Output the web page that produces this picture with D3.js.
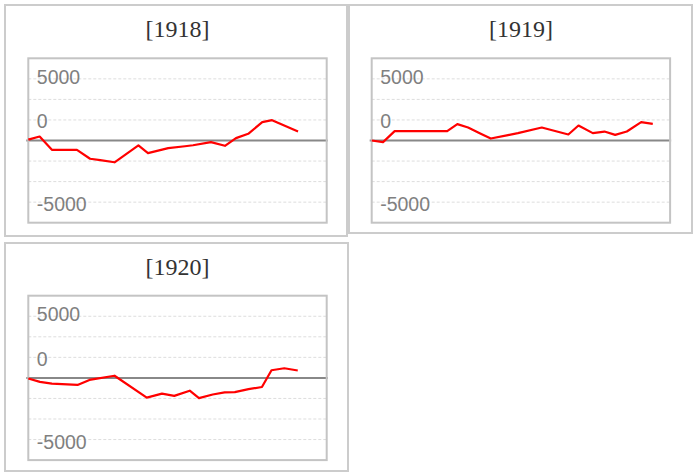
<!DOCTYPE html>
<meta charset="utf-8">
<script src="https://d3js.org/d3.v7.min.js"></script>
<style>
  body { margin: 0; background: #fff; }
</style>
<body>
<div id="my_dataviz"></div>
<script>

// panel titles
var years = ["[1918]", "[1919]", "[1920]"];

// x position of each point (share of the period, 0-100) and value
var x1918 = [0, 3.8, 7.9, 16.3, 20.7, 24.1, 28.9, 36.9, 40.1, 46.9, 52.5, 55.2, 61.2, 65.9, 69.6, 73.7, 78.4, 81.7, 90.4];
var v1918 = [100, 485, -1130, -1130, -2220, -2380, -2650, -605, -1530, -920, -700, -580, -195, -645, 290, 815, 2235, 2475, 1090];

var x1919 = [0, 3.8, 7.7, 25.3, 28.7, 32.3, 36.2, 39.9, 45.7, 49, 57, 65.9, 69.3, 74.1, 78, 81.6, 85.5, 90.3, 94.2];
var v1919 = [0, -195, 1140, 1140, 1990, 1580, 875, 240, 655, 900, 1580, 730, 1820, 900, 1090, 690, 1090, 2235, 2030];

var x1920 = [0, 3.9, 7.9, 16.5, 20.5, 28.9, 39.7, 44.8, 48.9, 54.1, 57.2, 61.8, 65.8, 69.2, 73.8, 78.3, 81.5, 85.8, 90.3];
var v1920 = [-70, -485, -705, -860, -245, 265, -2400, -1920, -2185, -1555, -2460, -2015, -1770, -1735, -1370, -1105, 935, 1175, 900];

// y axis: grid every 2500, and the odd label placement of the original
var gridValues = [7500, 5000, 2500, -2500, -5000, -7500];
var tickLabels = ["5000", "0", "-5000"];
var labelAnchors = [6900, 1500, -8600];

var series = [
  {xs: x1918, vs: v1918},
  {xs: x1919, vs: v1919},
  {xs: x1920, vs: v1920}
];

// layout of the three little charts
var frames = [
  {x: 5, y: 5, w: 342, h: 231},
  {x: 349, y: 5, w: 343, h: 228},
  {x: 5, y: 243, w: 343, h: 228}
];
var plots = [
  {x: 28.3, y: 58.3},
  {x: 371.7, y: 58.3},
  {x: 28.3, y: 295.7}
];
var pw = 298.4, ph = 164.4;

var svg = d3.select("#my_dataviz")
  .append("svg")
    .attr("width", 698)
    .attr("height", 476);

years.forEach(function(title, i) {
  var f = frames[i], p = plots[i], s = series[i];

  var x = d3.scaleLinear().domain([0, 100]).range([p.x, p.x + pw]);
  var y = d3.scaleLinear().domain([-10000, 10000]).range([p.y + ph, p.y]);

  svg.append("rect")
    .attr("x", f.x).attr("y", f.y)
    .attr("width", f.w).attr("height", f.h)
    .attr("fill", "#fff")
    .attr("stroke", "#cccccc")
    .attr("stroke-width", 2);

  svg.append("text")
    .attr("x", p.x + pw / 2)
    .attr("y", f.y + 31.5)
    .attr("text-anchor", "middle")
    .style("font-family", "Liberation Serif")
    .style("font-size", "24px")
    .style("fill", "#333")
    .text(title);

  var g = svg.append("g");

  // dotted grid
  g.selectAll(".grid")
    .data(gridValues)
    .enter()
    .append("line")
      .attr("x1", p.x).attr("x2", p.x + pw)
      .attr("y1", function(d) { return y(d); })
      .attr("y2", function(d) { return y(d); })
      .attr("stroke", "#dddddd")
      .attr("stroke-width", 1)
      .attr("stroke-dasharray", "3,2");

  // labels
  g.selectAll(".lab")
    .data(tickLabels)
    .enter()
    .append("text")
      .attr("x", p.x + 8.5)
      .attr("y", function(d, k) { return y(labelAnchors[k]); })
      .style("font-family", "Liberation Sans")
      .style("font-size", "19.5px")
      .style("fill", "#808080")
      .text(function(d) { return d; });

  // zero line
  g.append("line")
    .attr("x1", p.x - 2).attr("x2", p.x + pw + 1)
    .attr("y1", y(0)).attr("y2", y(0))
    .attr("stroke", "#888888")
    .attr("stroke-width", 2);

  // plot frame
  g.append("rect")
    .attr("x", p.x).attr("y", p.y)
    .attr("width", pw).attr("height", ph)
    .attr("fill", "none")
    .attr("stroke", "#c4c4c4")
    .attr("stroke-width", 2);

  var pts = s.xs.map(function(d, k) { return [d, s.vs[k]]; });
  g.append("path")
    .datum(pts)
    .attr("fill", "none")
    .attr("stroke", "#ff0000")
    .attr("stroke-width", 2.2)
    .attr("stroke-linejoin", "round")
    .attr("d", d3.line()
      .x(function(d) { return x(d[0]); })
      .y(function(d) { return y(d[1]); }));
});

</script>
</body>
